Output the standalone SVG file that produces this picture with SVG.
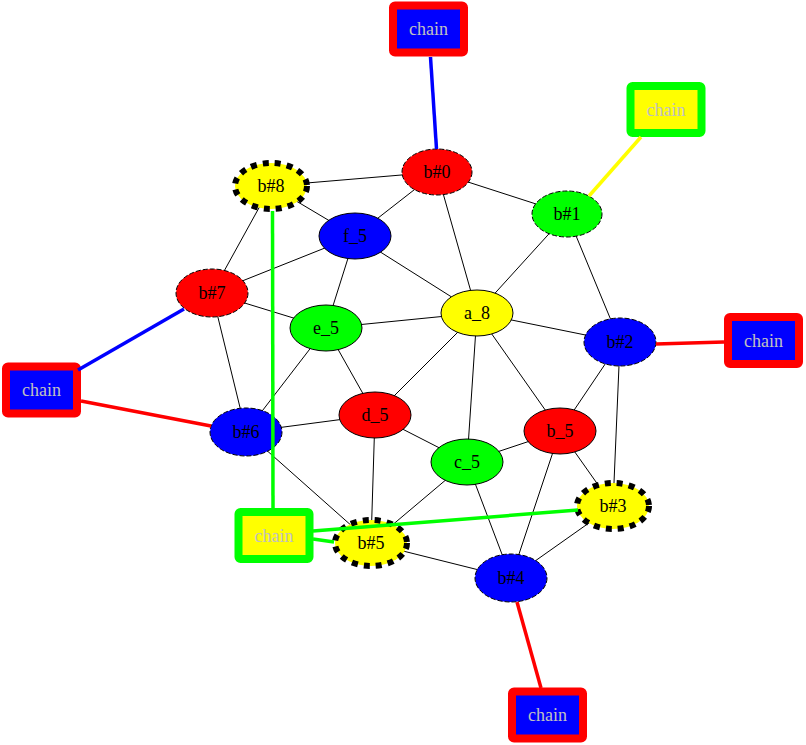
<svg xmlns="http://www.w3.org/2000/svg" width="806" height="745" viewBox="0 0 806 745">
<style>
text{font-family:"Liberation Serif","Times New Roman",serif;font-size:18px;text-anchor:middle}
.lbl{fill:#000}
.cl{fill:#c0c0c0}
.e{stroke:#000;stroke-width:1;fill:none}
.n{stroke:#000;stroke-width:1}
.nd{stroke:#000;stroke-width:1;stroke-dasharray:5,2}
.nb{stroke:#000;stroke-width:6;stroke-dasharray:6,6}
.ch{stroke-width:8;stroke-linejoin:round}
.ce{stroke-width:3.5;fill:none}
</style>
<rect width="806" height="745" fill="#fff"/>
<g id="connectors">
<g id="edges">
<line class="e" x1="271" y1="186" x2="437" y2="172"/>
<line class="e" x1="271" y1="186" x2="355" y2="236"/>
<line class="e" x1="271" y1="186" x2="212" y2="293"/>
<line class="e" x1="437" y1="172" x2="355" y2="236"/>
<line class="e" x1="437" y1="172" x2="567" y2="214"/>
<line class="e" x1="437" y1="172" x2="477" y2="313"/>
<line class="e" x1="567" y1="214" x2="477" y2="313"/>
<line class="e" x1="567" y1="214" x2="620" y2="342"/>
<line class="e" x1="355" y1="236" x2="212" y2="293"/>
<line class="e" x1="355" y1="236" x2="326" y2="328"/>
<line class="e" x1="355" y1="236" x2="477" y2="313"/>
<line class="e" x1="212" y1="293" x2="326" y2="328"/>
<line class="e" x1="212" y1="293" x2="246" y2="432"/>
<line class="e" x1="326" y1="328" x2="477" y2="313"/>
<line class="e" x1="326" y1="328" x2="246" y2="432"/>
<line class="e" x1="326" y1="328" x2="375" y2="415"/>
<line class="e" x1="477" y1="313" x2="620" y2="342"/>
<line class="e" x1="477" y1="313" x2="375" y2="415"/>
<line class="e" x1="477" y1="313" x2="467" y2="462"/>
<line class="e" x1="477" y1="313" x2="560" y2="431"/>
<line class="e" x1="620" y1="342" x2="560" y2="431"/>
<line class="e" x1="620" y1="342" x2="613" y2="506"/>
<line class="e" x1="246" y1="432" x2="375" y2="415"/>
<line class="e" x1="246" y1="432" x2="371" y2="543"/>
<line class="e" x1="375" y1="415" x2="467" y2="462"/>
<line class="e" x1="375" y1="415" x2="371" y2="543"/>
<line class="e" x1="467" y1="462" x2="560" y2="431"/>
<line class="e" x1="467" y1="462" x2="371" y2="543"/>
<line class="e" x1="467" y1="462" x2="511" y2="578"/>
<line class="e" x1="560" y1="431" x2="613" y2="506"/>
<line class="e" x1="560" y1="431" x2="511" y2="578"/>
<line class="e" x1="613" y1="506" x2="511" y2="578"/>
<line class="e" x1="371" y1="543" x2="511" y2="578"/>
</g>
</g>
<g id="b0"><ellipse class="nd" cx="437" cy="172" rx="35" ry="23" fill="#f00"/><text class="lbl" x="437" y="178">b#0</text></g>
<g id="b1"><ellipse class="nd" cx="567" cy="214" rx="35" ry="23" fill="#0f0"/><text class="lbl" x="567" y="220">b#1</text></g>
<g id="b2"><ellipse class="nd" cx="620" cy="342" rx="36" ry="24" fill="#00f"/><text class="lbl" x="620" y="348">b#2</text></g>
<g id="b3"><ellipse class="nb" cx="613" cy="506" rx="36" ry="23" fill="#ff0"/><text class="lbl" x="613" y="512">b#3</text></g>
<g id="b4"><ellipse class="nd" cx="511" cy="578" rx="36" ry="24" fill="#00f"/><text class="lbl" x="511" y="584">b#4</text></g>
<g id="b5"><ellipse class="nb" cx="371" cy="543" rx="36" ry="23" fill="#ff0"/><text class="lbl" x="371" y="549">b#5</text></g>
<g id="b6"><ellipse class="nd" cx="246" cy="432" rx="36" ry="24" fill="#00f"/><text class="lbl" x="246" y="438">b#6</text></g>
<g id="b7"><ellipse class="nd" cx="212" cy="293" rx="36" ry="24" fill="#f00"/><text class="lbl" x="212" y="299">b#7</text></g>
<g id="b8"><ellipse class="nb" cx="271" cy="186" rx="36" ry="23" fill="#ff0"/><text class="lbl" x="271" y="192">b#8</text></g>
<g id="f5"><ellipse class="n" cx="355" cy="236" rx="36" ry="23" fill="#00f"/><text class="lbl" x="355" y="242">f_5</text></g>
<g id="e5"><ellipse class="n" cx="326" cy="328" rx="36" ry="23" fill="#0f0"/><text class="lbl" x="326" y="334">e_5</text></g>
<g id="a8"><ellipse class="n" cx="477" cy="313" rx="36" ry="23" fill="#ff0"/><text class="lbl" x="477" y="319">a_8</text></g>
<g id="d5"><ellipse class="n" cx="375" cy="415" rx="36" ry="23" fill="#f00"/><text class="lbl" x="375" y="421">d_5</text></g>
<g id="c5"><ellipse class="n" cx="467" cy="462" rx="36" ry="23" fill="#0f0"/><text class="lbl" x="467" y="468">c_5</text></g>
<g id="b_5"><ellipse class="n" cx="560" cy="431" rx="36" ry="23" fill="#f00"/><text class="lbl" x="560" y="437">b_5</text></g>
<g id="chain0"><rect class="ch" x="393" y="5.5" width="71" height="47" rx="2" fill="#00f" stroke="#f00"/><text class="cl" x="428.5" y="35">chain</text></g>
<g id="chain1"><rect class="ch" x="630.5" y="86" width="71" height="47" rx="2" fill="#ff0" stroke="#0f0"/><text class="cl" x="666" y="115.5">chain</text></g>
<g id="chain2"><rect class="ch" x="728" y="317" width="71" height="47" rx="2" fill="#00f" stroke="#f00"/><text class="cl" x="763.5" y="346.5">chain</text></g>
<g id="chain3"><rect class="ch" x="6" y="366.5" width="71" height="47" rx="2" fill="#00f" stroke="#f00"/><text class="cl" x="41.5" y="396">chain</text></g>
<g id="chain4"><rect class="ch" x="512" y="691.5" width="71" height="47" rx="2" fill="#00f" stroke="#f00"/><text class="cl" x="547.5" y="721">chain</text></g>
<g id="chain5"><rect class="ch" x="238.5" y="512" width="71" height="47" rx="2" fill="#ff0" stroke="#0f0"/><text class="cl" x="274" y="541.5">chain</text></g>
<g id="chain-connectors">
<line class="ce" stroke="#00f" x1="430.5" y1="57" x2="436.5" y2="149"/>
<line class="ce" stroke="#ff0" x1="641" y1="137" x2="589" y2="196"/>
<line class="ce" stroke="#f00" x1="656" y1="344" x2="724" y2="342"/>
<line class="ce" stroke="#00f" x1="78" y1="370" x2="184" y2="309"/>
<line class="ce" stroke="#f00" x1="81" y1="401" x2="211" y2="426"/>
<line class="ce" stroke="#0f0" x1="272.5" y1="211" x2="273" y2="508"/>
<line class="ce" stroke="#0f0" x1="313" y1="531" x2="578" y2="510"/>
<line class="ce" stroke="#0f0" x1="313" y1="539" x2="334" y2="542"/>
<line class="ce" stroke="#f00" x1="517" y1="602" x2="541" y2="688"/>
</g>
</svg>
